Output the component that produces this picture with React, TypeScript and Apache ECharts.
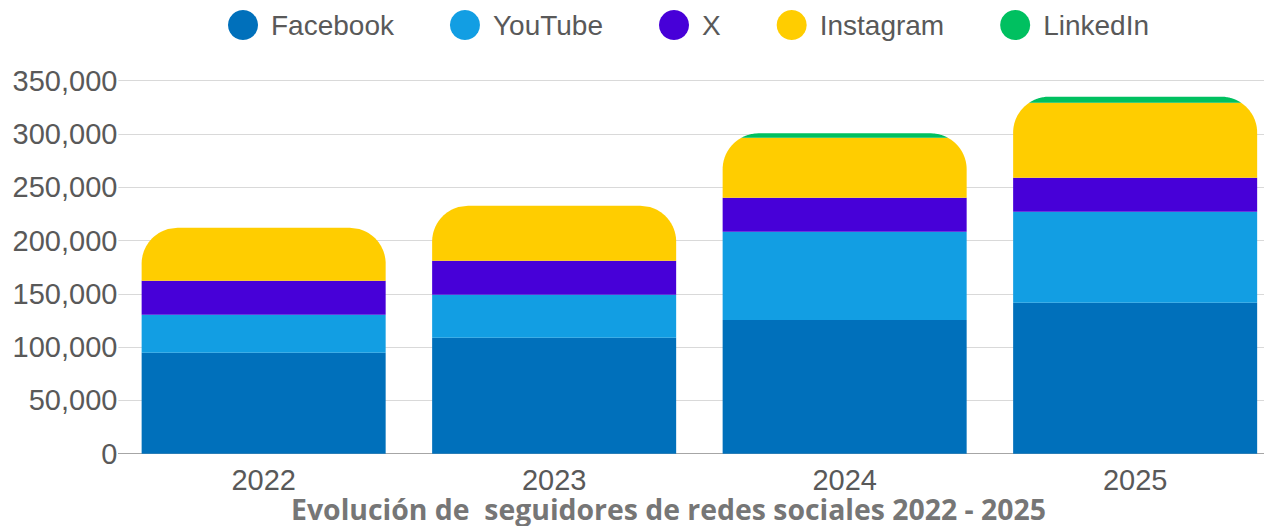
import React, { useEffect, useRef } from "react";
import * as echarts from "echarts";

const categories = ["2022", "2023", "2024", "2025"];
const facebook = [94800, 108800, 125400, 141700];
const youtube = [35600, 40400, 82900, 85400];
const xNet = [31900, 31900, 31900, 31900];
const instagram = [49700, 51600, 56300, 70300];
const linkedin = [0, 0, 4100, 5700];
const yTicks = [0, 50000, 100000, 150000, 200000, 250000, 300000, 350000];

const COLORS = {
  facebook: "#0070BB",
  youtube: "#129EE3",
  x: "#4700D8",
  instagram: "#FFCD00",
  linkedin: "#00C060",
};

const BAR_FRACTION = 0.84;
const RADIUS = 36;

function bandPolygon(x0: number, x1: number, yTop: number, r: number, yHigh: number, yLow: number) {
  const leftAt = (y: number) => {
    const cy = yTop + r;
    if (y >= cy) return x0;
    const dy = cy - y;
    const v = Math.max(0, r * r - dy * dy);
    return x0 + r - Math.sqrt(v);
  };
  const ys: number[] = [];
  const steps = 40;
  for (let i = 0; i <= steps; i++) ys.push(yHigh + ((yLow - yHigh) * i) / steps);
  const left = ys.map((y) => [leftAt(y), y]);
  const right = ys
    .slice()
    .reverse()
    .map((y) => [x1 - (leftAt(y) - x0), y]);
  return left.concat(right);
}

function makeTopSeries(name: string, values: number[], color: string, isTopmost: boolean) {
  return {
    name,
    type: "custom",
    coordinateSystem: "cartesian2d",
    itemStyle: { color },
    encode: { x: 0, y: 1 },
    data: values.map((v, i) => [i, v]),
    z: 3,
    renderItem: (params: any, api: any) => {
      const idx = params.dataIndex;
      const base = facebook[idx] + youtube[idx] + xNet[idx];
      const low = isTopmost ? base + instagram[idx] : base;
      const high = low + values[idx];
      const total = base + instagram[idx] + linkedin[idx];
      if (values[idx] <= 0) return null;
      const cx = api.coord([idx, 0])[0];
      const band = api.size([1, 0])[0];
      const w = band * BAR_FRACTION;
      const x0 = cx - w / 2;
      const x1 = cx + w / 2;
      const yLow = api.coord([idx, low])[1];
      const yHigh = api.coord([idx, high])[1];
      const yTop = api.coord([idx, total])[1];
      return {
        type: "polygon",
        shape: { points: bandPolygon(x0, x1, yTop, RADIUS, yHigh, yLow) },
        style: { fill: color },
      };
    },
  };
}

export default function App() {
  const ref = useRef<HTMLDivElement>(null);
  useEffect(() => {
    document.body.style.margin = "0";
    if (!ref.current) return;
    const chart = echarts.init(ref.current, undefined, { renderer: "svg" });
    const labelFont = "'Liberation Sans', Arial, sans-serif";
    chart.setOption({
      animation: false,
      title: {
        text: "Evolución de  seguidores de redes sociales 2022 - 2025",
        left: 286,
        top: 491,
        textStyle: {
          fontFamily: "'Open Sans', sans-serif",
          fontWeight: "bold",
          fontSize: 28.4,
          lineHeight: 26,
          color: "#767676",
        },
      },
      legend: {
        data: ["Facebook", "YouTube", "X", "Instagram", "LinkedIn"],
        left: 223,
        top: 5,
        icon: "circle",
        itemWidth: 30,
        itemHeight: 30,
        itemGap: 56,
        textStyle: {
          fontFamily: labelFont,
          fontSize: 28,
          color: "#595959",
          padding: [0, 0, 0, 8],
        },
      },
      grid: { left: 118.4, top: 80.7, width: 1162, height: 373 },
      xAxis: {
        type: "category",
        data: categories,
        axisTick: { show: false },
        axisLine: { lineStyle: { color: "#a6a6a6", width: 1 } },
        axisLabel: { fontFamily: labelFont, fontSize: 29, lineHeight: 26, color: "#595959", margin: 13 },
      },
      yAxis: {
        type: "value",
        min: yTicks[0],
        max: yTicks[yTicks.length - 1],
        interval: 50000,
        axisLine: { show: false },
        axisTick: { show: false },
        splitLine: { lineStyle: { color: "#d9d9d9", width: 1 } },
        axisLabel: {
          fontFamily: labelFont,
          fontSize: 29,
          color: "#595959",
          margin: 1,
          formatter: (v: number) => v.toLocaleString("en-US"),
        },
      },
      series: [
        { name: "Facebook", type: "bar", stack: "total", data: facebook, barCategoryGap: "16%", itemStyle: { color: COLORS.facebook } },
        { name: "YouTube", type: "bar", stack: "total", data: youtube, barCategoryGap: "16%", itemStyle: { color: COLORS.youtube } },
        { name: "X", type: "bar", stack: "total", data: xNet, barCategoryGap: "16%", itemStyle: { color: COLORS.x } },
        makeTopSeries("Instagram", instagram, COLORS.instagram, false),
        makeTopSeries("LinkedIn", linkedin, COLORS.linkedin, true),
      ],
    });
    return () => chart.dispose();
  }, []);
  return (
    <div style={{ width: 1264, height: 526, overflow: "hidden", position: "relative" }}>
      <div ref={ref} style={{ width: 1290, height: 526 }} />
    </div>
  );
}
